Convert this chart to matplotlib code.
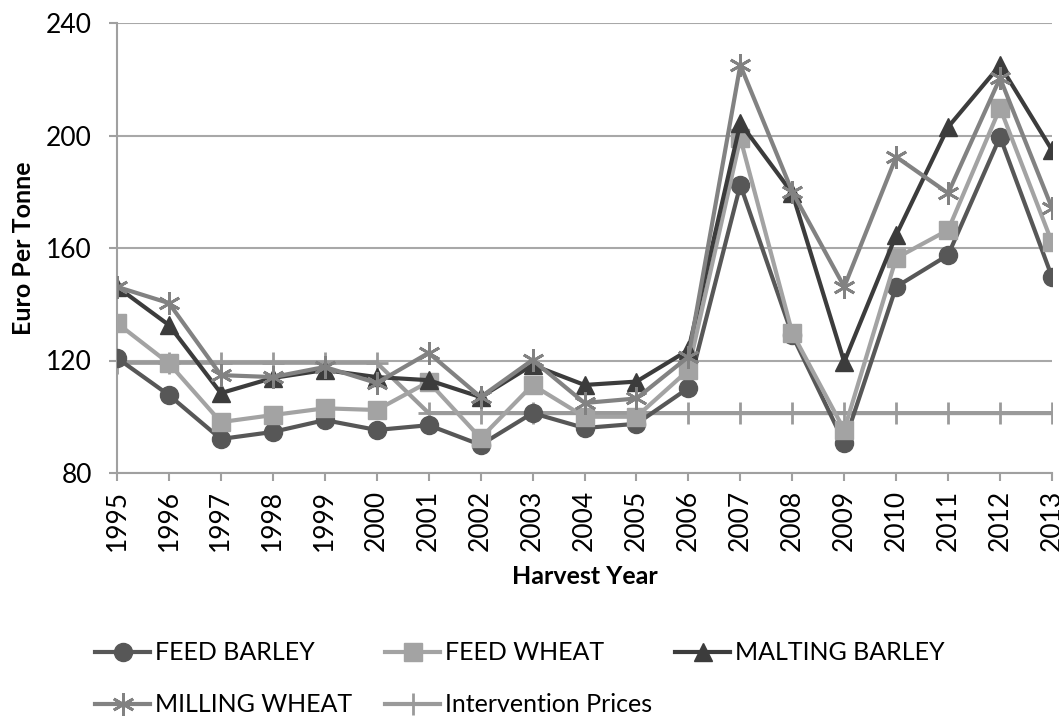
import matplotlib
matplotlib.use("Agg")
import matplotlib.pyplot as plt

plt.rcParams['font.family'] = ['Lato', 'DejaVu Sans']

years = list(range(1995, 2014))
feed_barley = [120.9, 107.7, 92.1, 94.6, 98.8, 95.3, 97.0, 90.0, 101.3, 96.0, 97.5, 110.2,
               182.4, 129.0, 90.7, 146.2, 157.5, 199.5, 149.7]
feed_wheat = [133.3, 119.0, 98.1, 100.6, 103.0, 102.4, 112.4, 92.4, 111.3, 100.0, 100.0, 116.6,
              199.0, 129.8, 95.3, 156.4, 166.4, 209.8, 162.0]
malting_barley = [146.2, 132.6, 108.4, 113.8, 116.6, 114.1, 113.0, 107.0, 118.4, 111.3, 112.5, 123.7,
                  204.4, 179.5, 119.5, 164.6, 203.0, 225.0, 194.8]
milling_wheat = [146.2, 140.4, 114.8, 114.1, 117.7, 112.0, 122.7, 107.0, 120.2, 104.9, 106.5, 121.3,
                 225.0, 180.0, 146.2, 192.4, 179.5, 220.4, 174.2]
intervention = [119.2, 119.2, 119.2, 119.2, 119.2, 119.2, 101.3, 101.3, 101.3, 101.3, 101.3, 101.3,
                101.3, 101.3, 101.3, 101.3, 101.3, 101.3, 101.3]

W, H = 1059, 718
fig = plt.figure(figsize=(W / 100, H / 100), dpi=100)
ax = fig.add_axes([117 / W, 1 - 473 / H, (1052 - 117) / W, 450 / H])

lines = {}
lines["Intervention Prices"], = ax.plot(years, intervention, color="#9a9a9a", lw=3, marker="+",
                                        ms=16, mew=2, zorder=2)
lines["FEED BARLEY"], = ax.plot(years, feed_barley, color="#575757", lw=3, marker="o", ms=13, zorder=3)
lines["FEED WHEAT"], = ax.plot(years, feed_wheat, color="#a3a3a3", lw=3, marker="s", ms=13, zorder=4)
lines["MALTING BARLEY"], = ax.plot(years, malting_barley, color="#3c3c3c", lw=3, marker="^", ms=13,
                                   zorder=5)
lines["MILLING WHEAT"], = ax.plot(years, milling_wheat, color="#828282", lw=3, marker=(6, 2, 0),
                                  ms=16, mew=2, zorder=6)

ax.set_xlim(1995, 2013)
ax.set_ylim(80, 240)
ax.set_yticks([80, 120, 160, 200, 240])
ax.set_xticks(years)
ax.set_xticklabels([str(y) for y in years], rotation=90)
ax.tick_params(labelsize=19, color="#a0a0a0", length=6, width=1.5)
ax.tick_params(axis="y", pad=12)
ax.tick_params(axis="x", pad=6)
ax.yaxis.grid(True, color="#a8a8a8", lw=1.5)
ax.set_axisbelow(True)
for side in ["top", "right"]:
    ax.spines[side].set_visible(False)
for side in ["left", "bottom"]:
    ax.spines[side].set_color("#a0a0a0")
    ax.spines[side].set_linewidth(1.5)

ax.set_ylabel("Euro Per Tonne", fontsize=18, fontweight="bold", labelpad=8)
ax.set_xlabel("Harvest Year", fontsize=18, fontweight="bold", labelpad=10)

# legend entries placed like the original (handle start x, row centre y in pixels)
legend_pos = [("FEED BARLEY", 95, 653), ("FEED WHEAT", 385, 653), ("MALTING BARLEY", 675, 653),
              ("MILLING WHEAT", 95, 705), ("Intervention Prices", 385, 705)]
for name, px, py in legend_pos:
    fig.legend([lines[name]], [name], loc="center left", bbox_to_anchor=(px / W, 1 - py / H),
               frameon=False, fontsize=18, handlelength=2.2, handletextpad=0.2,
               borderpad=0, borderaxespad=0)

fig.savefig("out.png", dpi=100)
